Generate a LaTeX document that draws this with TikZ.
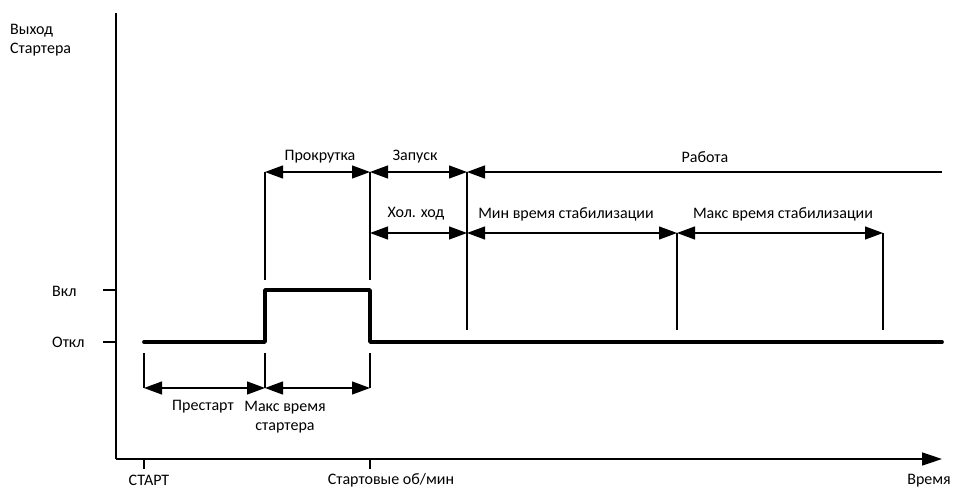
\documentclass[tikz,border=0pt]{standalone}
\usepackage{fontspec}
\setmainfont{Carlito}
\usetikzlibrary{arrows.meta}
\begin{document}
\begin{tikzpicture}[x=1pt,y=-1pt,
  lbl/.style={font=\fontsize{16}{19.5}\selectfont, inner sep=0pt},
  dim/.style={line width=1.2pt, {Triangle[length=18pt,width=13pt]}-{Triangle[length=18pt,width=13pt]}},
  ldim/.style={line width=1.2pt, {Triangle[length=18pt,width=13pt]}-},
  ext/.style={line width=1.2pt},
  axis/.style={line width=1.6pt},
  signal/.style={line width=3.8pt, line cap=round, line join=round}]
\useasboundingbox (0,0) rectangle (953,489);

% axes
\coordinate (yTop) at (116,13);
\coordinate (origin) at (116,459);
\coordinate (xEnd) at (942,459);
\draw[axis] (yTop) -- (origin);
\draw[axis, -{Triangle[length=20pt,width=13pt]}] (origin) -- (xEnd);

% axis ticks
\coordinate (onT0) at (103,290); \coordinate (onT1) at (116,290);
\coordinate (offT0) at (103,342); \coordinate (offT1) at (116,342);
\draw[axis] (onT0) -- (onT1);
\draw[axis] (offT0) -- (offT1);
\coordinate (startT0) at (144,459); \coordinate (startT1) at (144,469);
\coordinate (rpmT0) at (370,459); \coordinate (rpmT1) at (370,469);
\draw[axis] (startT0) -- (startT1);
\draw[axis] (rpmT0) -- (rpmT1);

% axis labels
\node[lbl, anchor=west, align=left] (ylab) at (10,40) {Выход\\Стартера};
\node[lbl, anchor=west] (on) at (52,291) {Вкл};
\node[lbl, anchor=west] (off) at (52,342) {Откл};
\node[lbl] (start) at (149,480) {СТАРТ};
\node[lbl] (rpm) at (391,480) {Стартовые об/мин};
\node[lbl] (time) at (929,481) {Время};

% starter output signal
\coordinate (s0) at (144,342);
\coordinate (s1) at (265,342);
\coordinate (s2) at (265,290);
\coordinate (s3) at (370,290);
\coordinate (s4) at (370,342);
\coordinate (s5) at (942,342);
\draw[signal] (s0) -- (s1) -- (s2) -- (s3) -- (s4) -- (s5);

% extension lines, upper
\coordinate (e1a) at (265,172); \coordinate (e1b) at (265,280);
\coordinate (e2a) at (370,172); \coordinate (e2b) at (370,280);
\coordinate (e3a) at (467,172); \coordinate (e3b) at (467,330);
\coordinate (e4a) at (677,233); \coordinate (e4b) at (677,330);
\coordinate (e5a) at (883,233); \coordinate (e5b) at (883,330);
\draw[ext] (e1a) -- (e1b);
\draw[ext] (e2a) -- (e2b);
\draw[ext] (e3a) -- (e3b);
\draw[ext] (e4a) -- (e4b);
\draw[ext] (e5a) -- (e5b);

% extension lines, lower
\coordinate (b1a) at (144,353); \coordinate (b1b) at (144,388);
\coordinate (b2a) at (265,353); \coordinate (b2b) at (265,388);
\coordinate (b3a) at (370,353); \coordinate (b3b) at (370,388);
\draw[ext] (b1a) -- (b1b);
\draw[ext] (b2a) -- (b2b);
\draw[ext] (b3a) -- (b3b);

% upper dimension row
\coordinate (r1a) at (265,172);
\coordinate (r1b) at (370,172);
\coordinate (r1c) at (467,172);
\coordinate (r1d) at (942,172);
\draw[dim] (r1a) -- (r1b);
\draw[dim] (r1b) -- (r1c);
\draw[ldim] (r1c) -- (r1d);
\node[lbl] (crank) at (320,157) {Прокрутка};
\node[lbl] (launch) at (415,157) {Запуск};
\node[lbl] (run) at (705,157) {Работа};

% second dimension row
\coordinate (r2a) at (370,233);
\coordinate (r2b) at (467,233);
\coordinate (r2c) at (677,233);
\coordinate (r2d) at (883,233);
\draw[dim] (r2a) -- (r2b);
\draw[dim] (r2b) -- (r2c);
\draw[dim] (r2c) -- (r2d);
\node[lbl] (idle) at (416,214) {Хол. ход};
\node[lbl] (minstab) at (566,214) {Мин время стабилизации};
\node[lbl] (maxstab) at (783,214) {Макс время стабилизации};

% lower dimension row
\coordinate (r3a) at (144,388);
\coordinate (r3b) at (265,388);
\coordinate (r3c) at (370,388);
\draw[dim] (r3a) -- (r3b);
\draw[dim] (r3b) -- (r3c);
\node[lbl] (prestart) at (203,407) {Престарт};
\node[lbl, align=center] (maxstart) at (285,417) {Макс время\\стартера};
\end{tikzpicture}
\end{document}
